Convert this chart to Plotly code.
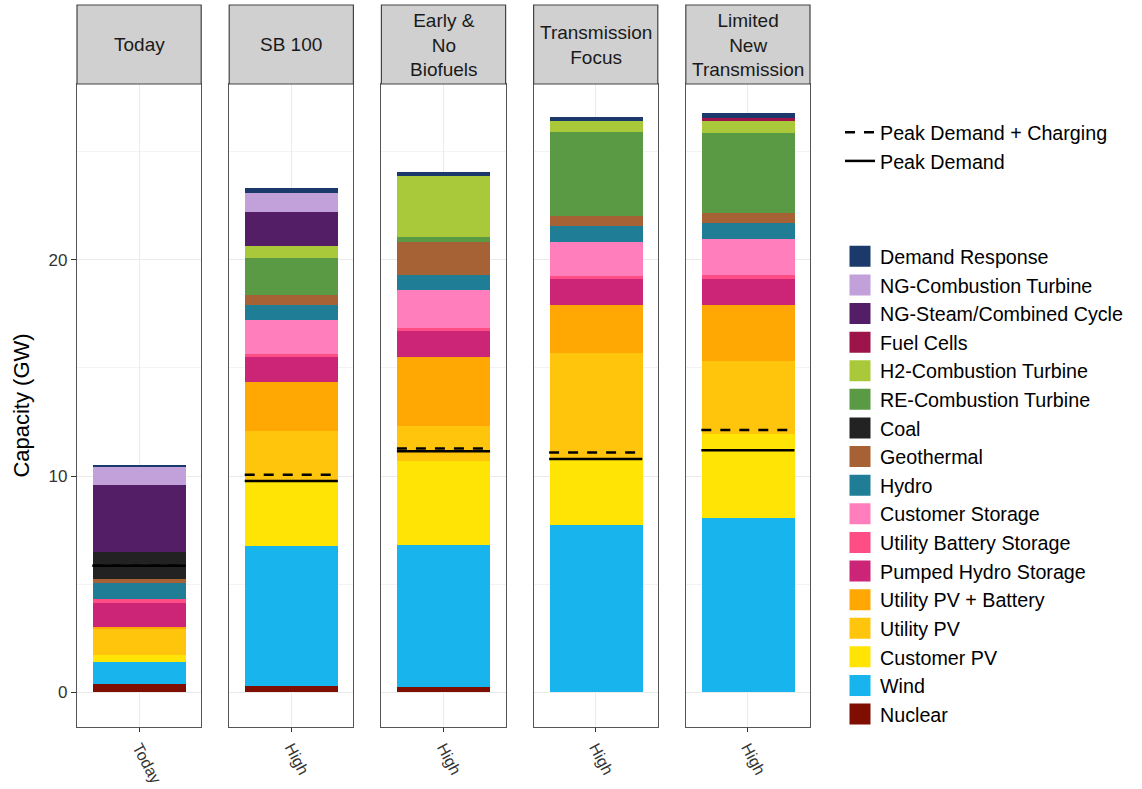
import plotly.graph_objects as go
from plotly.subplots import make_subplots

# ---------------- data ----------------
strip_labels = ["Today", "SB 100", "Early &<br>No<br>Biofuels", "Transmission<br>Focus", "Limited<br>New<br>Transmission"]
case_labels = ["Today", "High", "High", "High", "High"]

# stacking order: bottom -> top
technologies = [
    "Nuclear", "Wind", "Customer PV", "Utility PV", "Utility PV + Battery",
    "Pumped Hydro Storage", "Utility Battery Storage", "Customer Storage", "Hydro",
    "Geothermal", "Coal", "RE-Combustion Turbine", "H2-Combustion Turbine",
    "Fuel Cells", "NG-Steam/Combined Cycle", "NG-Combustion Turbine", "Demand Response",
]
tech_colors = [
    "#800E00", "#17B4EE", "#FFE405", "#FFC50D", "#FFA804",
    "#CC2477", "#FF4D86", "#FF7EBB", "#1F7E96",
    "#A66234", "#222222", "#5B9A45", "#A9C93A",
    "#9C1449", "#531E66", "#C2A0D9", "#1B3A6B",
]

nuclear = [0.39, 0.27, 0.26, 0.00, 0.00]
wind = [0.99, 6.50, 6.55, 7.75, 8.05]
customer_pv = [0.35, 2.97, 3.90, 2.97, 3.90]
utility_pv = [1.22, 2.34, 1.61, 4.96, 3.36]
utility_pv_battery = [0.05, 2.25, 3.18, 2.23, 2.60]
pumped_hydro = [1.14, 1.18, 1.19, 1.18, 1.20]
utility_battery = [0.15, 0.13, 0.16, 0.18, 0.18]
customer_storage = [0.00, 1.57, 1.73, 1.56, 1.69]
hydro = [0.74, 0.72, 0.70, 0.72, 0.72]
geothermal = [0.23, 0.46, 1.55, 0.46, 0.47]
coal = [1.23, 0.00, 0.00, 0.00, 0.00]
re_ct = [0.00, 1.71, 0.24, 3.89, 3.68]
h2_ct = [0.00, 0.54, 2.82, 0.53, 0.55]
fuel_cells = [0.00, 0.00, 0.00, 0.00, 0.17]
ng_steam = [3.08, 1.57, 0.00, 0.00, 0.00]
ng_ct = [0.85, 0.88, 0.00, 0.00, 0.00]
demand_response = [0.07, 0.24, 0.18, 0.19, 0.22]

tech_values = [
    nuclear, wind, customer_pv, utility_pv, utility_pv_battery,
    pumped_hydro, utility_battery, customer_storage, hydro,
    geothermal, coal, re_ct, h2_ct,
    fuel_cells, ng_steam, ng_ct, demand_response,
]

peak_demand_charging = [5.85, 10.06, 11.27, 11.09, 12.13]
peak_demand = [5.85, 9.77, 11.15, 10.79, 11.19]

# ---------------- figure ----------------
W, H = 1142, 789
ML, MR, MT, MB = 77, 332, 84, 62
PW = W - ML - MR
PH = H - MT - MB
BAR_W = 0.9
FONT = "Liberation Sans, Arial, sans-serif"

n = len(case_labels)
fig = make_subplots(rows=1, cols=n, shared_yaxes=True, horizontal_spacing=28 / PW)

for i in range(n):
    for tech, col, vals in zip(technologies, tech_colors, tech_values):
        fig.add_trace(go.Bar(x=[0], y=[vals[i]], width=BAR_W, name=tech,
                             marker=dict(color=col, line=dict(width=0)),
                             showlegend=False, hoverinfo="name+y"), row=1, col=i + 1)
    fig.add_trace(go.Scatter(x=[-BAR_W / 2, BAR_W / 2], y=[peak_demand_charging[i]] * 2,
                             mode="lines", name="Peak Demand + Charging",
                             line=dict(color="black", width=2.5, dash="10px,9px"),
                             legend="legend2", showlegend=(i == 0)),
                  row=1, col=i + 1)
    fig.add_trace(go.Scatter(x=[-BAR_W / 2, BAR_W / 2], y=[peak_demand[i]] * 2,
                             mode="lines", name="Peak Demand",
                             line=dict(color="black", width=2.5),
                             legend="legend2", showlegend=(i == 0)),
                  row=1, col=i + 1)

# legend entries for fills (top of stack first)
for tech, col in zip(reversed(technologies), reversed(tech_colors)):
    fig.add_trace(go.Scatter(x=[None], y=[None], mode="markers", name=tech,
                             marker=dict(symbol="square", size=16, color=col,
                                         line=dict(color=col, width=5)),
                             legend="legend", showlegend=True),
                  row=1, col=1)

totals = [sum(v[i] for v in tech_values) for i in range(n)]
ymax = max(totals)
yrange = [-0.06 * ymax, 1.05 * ymax]

for i in range(n):
    xa = "xaxis" if i == 0 else f"xaxis{i + 1}"
    ya = "yaxis" if i == 0 else f"yaxis{i + 1}"
    fig.layout[xa].update(
        range=[-0.6, 0.6], tickvals=[0], ticktext=[case_labels[i]], tickangle=62,
        tickfont=dict(size=16, color="#333333", family=FONT),
        ticks="outside", ticklen=4, tickcolor="#333333", automargin=False,
        showgrid=True, gridcolor="#EBEBEB", gridwidth=1, zeroline=False,
        showline=True, mirror=True, linecolor="#555555", linewidth=1.3,
    )
    fig.layout[ya].update(
        range=yrange, tickvals=[0, 10, 20], zeroline=False, automargin=False,
        showgrid=True, gridcolor="#EBEBEB", gridwidth=1.2,
        minor=dict(tickvals=[5, 15, 25], showgrid=True, gridcolor="#F3F3F3", gridwidth=0.7, ticks=""),
        showline=True, mirror=True, linecolor="#555555", linewidth=1.3,
        ticks="outside" if i == 0 else "", ticklen=5, tickcolor="#333333",
        tickfont=dict(size=17, color="#333333", family=FONT),
    )
    xref = "x domain" if i == 0 else f"x{i + 1} domain"
    strip_top = 1 + (MT - 5) / PH
    fig.add_shape(type="rect", xref=xref, yref="paper", x0=0, x1=1, y0=1, y1=strip_top,
                  fillcolor="#D0D0D0", line=dict(color="#444444", width=1.2), layer="above")
    fig.add_annotation(xref=xref, yref="paper", x=0.5, y=(1 + strip_top) / 2,
                       text=strip_labels[i], showarrow=False,
                       font=dict(size=19, color="#1A1A1A", family=FONT),
                       xanchor="center", yanchor="middle")

fig.layout.yaxis.title = dict(text="Capacity (GW)", font=dict(size=22, color="black", family=FONT), standoff=12)

fig.update_layout(
    width=W, height=H, barmode="stack", bargap=0,
    margin=dict(l=ML, r=MR, t=MT, b=MB),
    paper_bgcolor="white", plot_bgcolor="white",
    font=dict(family=FONT, color="black"),
    legend=dict(x=(840 - ML) / PW, y=1 - (237 - MT) / PH, xanchor="left", yanchor="top",
                font=dict(size=19.7, color="black", family=FONT), traceorder="normal",
                tracegroupgap=0, itemsizing="trace", bgcolor="rgba(0,0,0,0)"),
    legend2=dict(x=(840 - ML) / PW, y=1 - (113 - MT) / PH, xanchor="left", yanchor="top",
                 font=dict(size=19.7, color="black", family=FONT), traceorder="normal",
                 tracegroupgap=0, itemwidth=30, bgcolor="rgba(0,0,0,0)"),
)

fig.write_html("out.html", config={"displayModeBar": False},
               post_script="document.body.style.margin='0px';")
